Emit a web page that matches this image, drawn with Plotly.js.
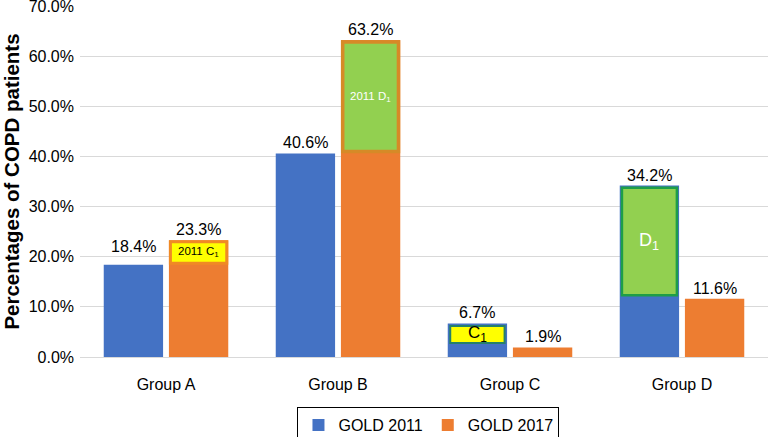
<!DOCTYPE html>
<html>
<head>
<meta charset="utf-8">
<script src="https://cdn.plot.ly/plotly-3.0.1.min.js"></script>
<style>html,body{margin:0;padding:0;background:#fff;}#chart{width:769px;height:437px;}</style>
</head>
<body>
<div id="chart"></div>
<script>
// ---- data ----
const categories = ['Group A', 'Group B', 'Group C', 'Group D'];
const seriesNames = ['GOLD 2011', 'GOLD 2017'];
const gold2011 = [18.4, 40.6, 6.7, 34.2];
const gold2017 = [23.3, 63.2, 1.9, 11.6];
const yTicks = [0, 10, 20, 30, 40, 50, 60, 70];

// sub-groups drawn inside bars (2011 groups that moved)
const subCategories = ['Group A', 'Group B', 'Group C', 'Group D'];
const subSeries = ['GOLD 2017', 'GOLD 2017', 'GOLD 2011', 'GOLD 2011'];
const subLabels = ['2011 C<sub>1</sub>', '2011 D<sub>1</sub>', 'C<sub>1</sub>', 'D<sub>1</sub>'];
const subBottom = [18.4, 40.6, 2.3, 11.9];
const subTop = [23.3, 63.2, 6.7, 34.2];

// ---- style ----
const FONT = 'Liberation Sans, Arial, sans-serif';
const colors = {'GOLD 2011': '#4472C4', 'GOLD 2017': '#ED7D31'};
const barWidth = 0.345;
const offsets = {'GOLD 2011': -0.362, 'GOLD 2017': 0.017};
const subStyle = [
  {fill: '#FFFF00', line: '#F08A24', lw: 3, insetPx: 1.5, font: 11.5, color: '#000'},
  {fill: '#92D050', line: '#D68A27', lw: 3.5, insetPx: 1.8, font: 11.5, color: '#fff'},
  {fill: '#FFFF00', line: '#26806A', lw: 2, insetPx: 2.5, font: 17, color: '#000'},
  {fill: '#92D050', line: '#1E9E48', lw: 2.5, insetPx: 2.2, font: 18, color: '#fff'}
];
const labelLift = {'GOLD 2011|Group A': 8};

const pxPerUnitX = 688 / 4;
const pxPerUnitY = 351 / 70;

const seriesData = {'GOLD 2011': gold2011, 'GOLD 2017': gold2017};

const traces = seriesNames.map(name => ({
  type: 'bar',
  name: name,
  x: categories,
  y: seriesData[name],
  width: barWidth,
  offset: offsets[name],
  marker: {color: colors[name], line: {width: 0}},
  hoverinfo: 'skip'
}));

const annotations = [];
seriesNames.forEach(name => {
  categories.forEach((c, i) => {
    const v = seriesData[name][i];
    annotations.push({
      xref: 'x', yref: 'y',
      x: i + offsets[name] + barWidth / 2,
      y: v,
      text: v.toFixed(1) + '%',
      showarrow: false,
      yanchor: 'bottom',
      yshift: labelLift[name + '|' + c] || 0,
      font: {family: FONT, size: 16, color: '#000'}
    });
  });
});

const shapes = [];
subCategories.forEach((c, k) => {
  const i = categories.indexOf(c);
  const st = subStyle[k];
  const left = i + offsets[subSeries[k]];
  const ix = st.insetPx / pxPerUnitX;
  const iy = st.insetPx / pxPerUnitY;
  shapes.push({
    type: 'rect', xref: 'x', yref: 'y', layer: 'above',
    x0: left + ix, x1: left + barWidth - ix,
    y0: subBottom[k] + iy, y1: subTop[k] - iy,
    fillcolor: st.fill,
    line: {color: st.line, width: st.lw}
  });
  annotations.push({
    xref: 'x', yref: 'y',
    x: left + barWidth / 2,
    y: (subBottom[k] + subTop[k]) / 2,
    text: subLabels[k],
    showarrow: false,
    font: {family: FONT, size: st.font, color: st.color}
  });
});

const layout = {
  width: 769, height: 437,
  margin: {l: 80, r: 1, t: 6, b: 80, autoexpand: false},
  paper_bgcolor: '#fff', plot_bgcolor: '#fff',
  barmode: 'overlay',
  font: {family: FONT, size: 16, color: '#000'},
  xaxis: {
    type: 'category',
    range: [-0.5, 3.5],
    showgrid: false,
    showline: true, linecolor: '#d9d9d9', linewidth: 1,
    ticks: '', ticklabelstandoff: 13,
    tickfont: {family: FONT, size: 16, color: '#000'},
    fixedrange: true
  },
  yaxis: {
    range: [0, 70],
    tickvals: yTicks,
    ticktext: yTicks.map(t => t.toFixed(1) + '%'),
    showgrid: true, gridcolor: '#d9d9d9', gridwidth: 1,
    zeroline: false, showline: false,
    ticks: '', ticklabelstandoff: 5,
    ticklabeloverflow: 'allow',
    tickfont: {family: FONT, size: 16, color: '#000'},
    title: {text: 'Percentages of COPD patients', font: {family: FONT, size: 20.5, color: '#000', weight: 'bold'}, standoff: 6},
    fixedrange: true
  },
  showlegend: true,
  legend: {
    orientation: 'h',
    x: 0.5065, xanchor: 'center',
    y: -0.1425, yanchor: 'top',
    bordercolor: '#000', borderwidth: 1,
    font: {family: FONT, size: 16, color: '#000'},
    traceorder: 'normal'
  },
  shapes: shapes,
  annotations: annotations
};

Plotly.newPlot('chart', traces, layout, {displayModeBar: false, staticPlot: true});
</script>
</body>
</html>
